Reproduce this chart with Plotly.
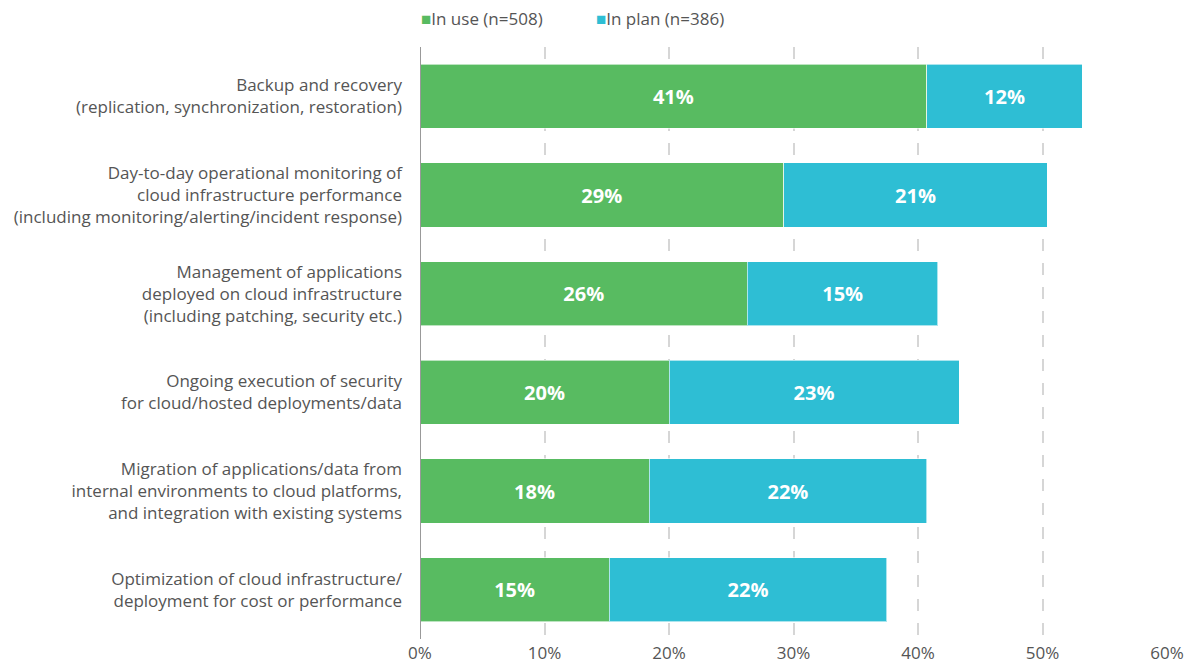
import plotly.graph_objects as go

categories = [
    "Backup and recovery<br>(replication, synchronization, restoration)",
    "Day-to-day operational monitoring of<br>cloud infrastructure performance<br>(including monitoring/alerting/incident response)",
    "Management of applications<br>deployed on cloud infrastructure<br>(including patching, security etc.)",
    "Ongoing execution of security<br>for cloud/hosted deployments/data",
    "Migration of applications/data from<br>internal environments to cloud platforms,<br>and integration with existing systems",
    "Optimization of cloud infrastructure/<br>deployment for cost or performance",
]
in_use = [40.7, 29.2, 26.3, 20.0, 18.4, 15.2]
in_plan = [12.5, 21.2, 15.3, 23.3, 22.3, 22.3]
series_names = ["In use (n=508)", "In plan (n=386)"]
x_ticks = [0, 10, 20, 30, 40, 50, 60]
x_tick_labels = ["0%", "10%", "20%", "30%", "40%", "50%", "60%"]

green = "#58BB61"
cyan = "#2EBED4"
colors = [green, cyan]
FONT = "Open Sans"

fig = go.Figure()
for name, vals, col in zip(series_names, [in_use, in_plan], colors):
    fig.add_trace(go.Bar(
        y=categories, x=vals, name=name, orientation="h",
        marker=dict(color=col, line=dict(color="rgba(255,255,255,0.6)", width=1)),
        text=[f"{round(v)}%" for v in vals], textposition="inside",
        insidetextanchor="middle",
        textfont=dict(family=FONT, size=20, color="white", weight="bold"),
        width=0.65, showlegend=False,
    ))

# legend as annotations
legend_x = [419, 594]
for name, col, lx in zip(series_names, colors, legend_x):
    fig.add_annotation(
        xref="paper", yref="paper", x=(lx - 420) / (1191 - 420 - 24), y=1,
        yshift=29, xanchor="left", yanchor="middle", showarrow=False,
        text=f"<span style='color:{col};font-size:17px'>■</span>{name}",
        font=dict(family=FONT, size=17, color="#555555"),
    )

fig.update_layout(
    barmode="stack",
    width=1191, height=665,
    margin=dict(l=420, r=24, t=47, b=26),
    paper_bgcolor="white", plot_bgcolor="white",
    font=dict(family=FONT, size=17, color="#555555"),
    showlegend=False,
    bargap=0.35,
)
fig.update_xaxes(
    range=[0, 60], tickvals=x_ticks, ticktext=x_tick_labels,
    showgrid=True, gridcolor="#d6d6d6", griddash="12px,12px", gridwidth=1.5,
    zeroline=False, ticks="", tickfont=dict(family=FONT, size=17, color="#555555"),
    ticklabelstandoff=2, automargin=False, fixedrange=True,
)
fig.update_yaxes(
    categoryorder="array", categoryarray=categories, autorange="reversed",
    showgrid=False, ticks="", ticklabelstandoff=17, automargin=False,
    showline=False, tickfont=dict(family=FONT, size=17, color="#555555"),
)
fig.add_shape(type="line", xref="x", yref="paper", x0=0, x1=0, y0=0, y1=1,
              line=dict(color="#999999", width=2), layer="above")

fig.write_html("out.html")
